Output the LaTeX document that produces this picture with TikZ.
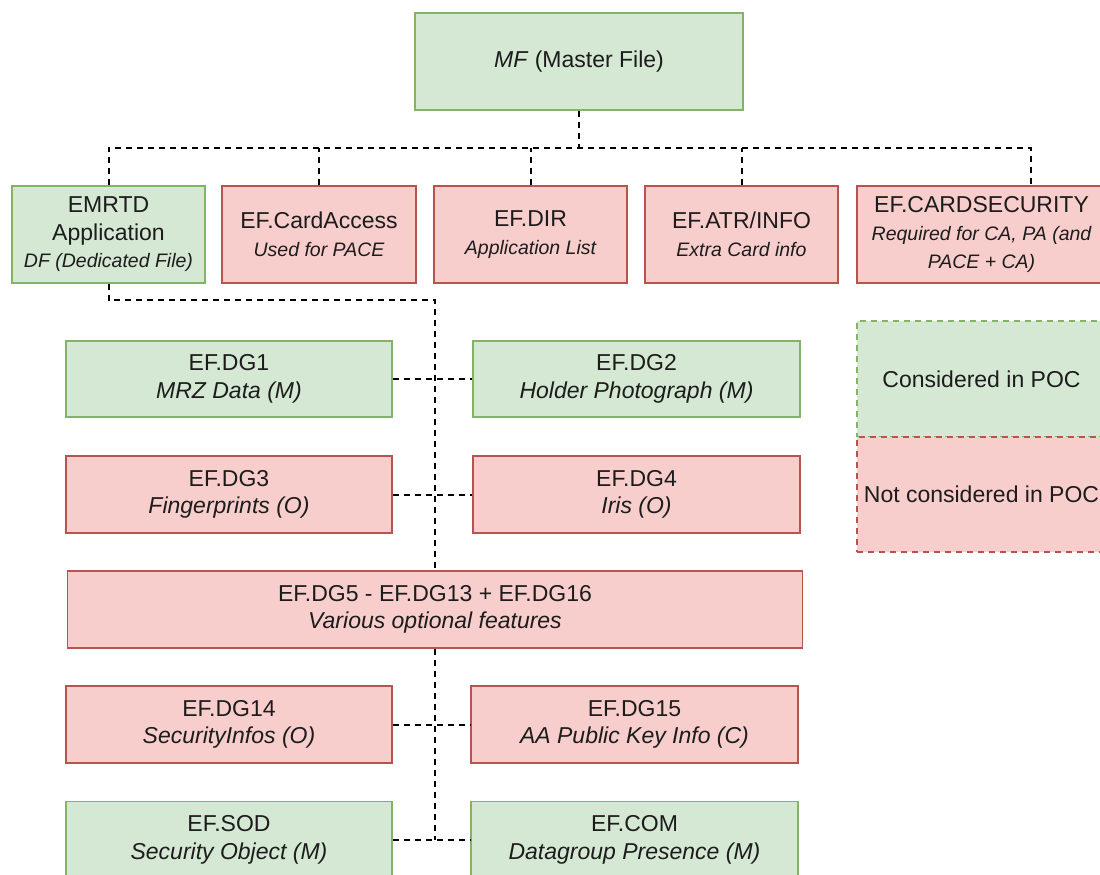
\documentclass[tikz,border=0pt]{standalone}
\usepackage{fontspec}
\setmainfont{Liberation Sans}
\definecolor{gfill}{HTML}{D5E8D4}
\definecolor{gline}{HTML}{82B366}
\definecolor{rfill}{HTML}{F8CECC}
\definecolor{rline}{HTML}{B85450}
\definecolor{ink}{HTML}{1C1C1C}
\newcommand{\mainsize}{\fontsize{23}{27.6}\selectfont}
\newcommand{\subsize}{\fontsize{19.5}{27.6}\selectfont\itshape}
\begin{document}
\begin{tikzpicture}[x=1pt,y=-1pt,
  filebox/.style={rectangle,inner sep=0pt,align=center,text=ink,font=\mainsize,line width=1.8pt},
  kept/.style={filebox,draw=gline,fill=gfill},
  dropped/.style={filebox,draw=rline,fill=rfill},
  legendbox/.style={filebox,dash pattern=on 6pt off 5pt},
  link/.style={draw=black,line width=2pt,dash pattern=on 6pt off 5pt}]
\useasboundingbox (0,0) rectangle (1100,875);
\clip (0,0) rectangle (1100,875);

% junction points of the dashed tree
\coordinate (bus) at (0,148);
\coordinate (bend) at (435,300);
\coordinate (csin) at (1031,186);
\coordinate (tail) at (435,840);

% master file
\node[kept,minimum width=328pt,minimum height=97pt] (mf) at (579,61.5) {\textit{MF} (Master File)};

% first level
\node[kept,minimum width=193pt,minimum height=97pt] (emrtd) at (108.5,234.5)
  {EMRTD\\Application\\{\subsize DF (Dedicated File)}};
\node[dropped,minimum width=194pt,minimum height=97pt] (ca) at (319,234.5)
  {EF.CardAccess\\{\subsize Used for PACE}};
\node[dropped,minimum width=193pt,minimum height=97pt] (dir) at (530.5,234.5)
  {EF.DIR\\{\subsize Application List}};
\node[dropped,minimum width=193pt,minimum height=97pt] (atr) at (741.5,234.5)
  {EF.ATR/INFO\\{\subsize Extra Card info}};
\node[dropped,minimum width=249pt,minimum height=97pt] (cs) at (981.5,234.5)
  {EF.CARDSECURITY\\{\subsize Required for CA, PA (and}\\{\subsize PACE + CA)}};

% data groups of the application
\node[kept,minimum width=326pt,minimum height=76pt] (dg1) at (229,379)
  {EF.DG1\\\textit{MRZ Data (M)}};
\node[kept,minimum width=327pt,minimum height=76pt] (dg2) at (636.5,379)
  {EF.DG2\\\textit{Holder Photograph (M)}};
\node[dropped,minimum width=326pt,minimum height=77pt] (dg3) at (229,494.5)
  {EF.DG3\\\textit{Fingerprints (O)}};
\node[dropped,minimum width=327pt,minimum height=77pt] (dg4) at (636.5,494.5)
  {EF.DG4\\\textit{Iris (O)}};
\node[dropped,minimum width=735pt,minimum height=77pt] (dg5) at (435,609.5)
  {EF.DG5 - EF.DG13 + EF.DG16\\\textit{Various optional features}};
\node[dropped,minimum width=326pt,minimum height=77pt] (dg14) at (229,724.5)
  {EF.DG14\\\textit{SecurityInfos (O)}};
\node[dropped,minimum width=327pt,minimum height=77pt] (dg15) at (634.5,724.5)
  {EF.DG15\\\textit{AA Public Key Info (C)}};
\node[kept,minimum width=326pt,minimum height=77pt] (sod) at (229,840)
  {EF.SOD\\\textit{Security Object (M)}};
\node[kept,minimum width=327pt,minimum height=77pt] (com) at (634.5,840)
  {EF.COM\\\textit{Datagroup Presence (M)}};

% legend
\node[legendbox,draw=gline,fill=gfill,minimum width=249pt,minimum height=116pt] (lkept) at (981.5,379)
  {Considered in POC};
\node[legendbox,draw=rline,fill=rfill,minimum width=249pt,minimum height=115pt] (ldrop) at (981.5,494.5)
  {Not considered in POC};

% dashed tree connectors
\draw[link] (emrtd.north) |- (csin |- bus) -- (csin);
\draw[link] (mf.south) -- (mf.south |- bus);
\draw[link] (ca.north) -- (ca.north |- bus);
\draw[link] (dir.north) -- (dir.north |- bus);
\draw[link] (atr.north) -- (atr.north |- bus);
\draw[link] (emrtd.south) |- (bend) -- (dg5.north);
\draw[link] (dg5.south) -- (tail);
\draw[link] (dg1.east) -- (dg2.west);
\draw[link] (dg3.east) -- (dg4.west);
\draw[link] (dg14.east) -- (dg15.west);
\draw[link] (sod.east) -- (com.west);
\end{tikzpicture}
\end{document}
